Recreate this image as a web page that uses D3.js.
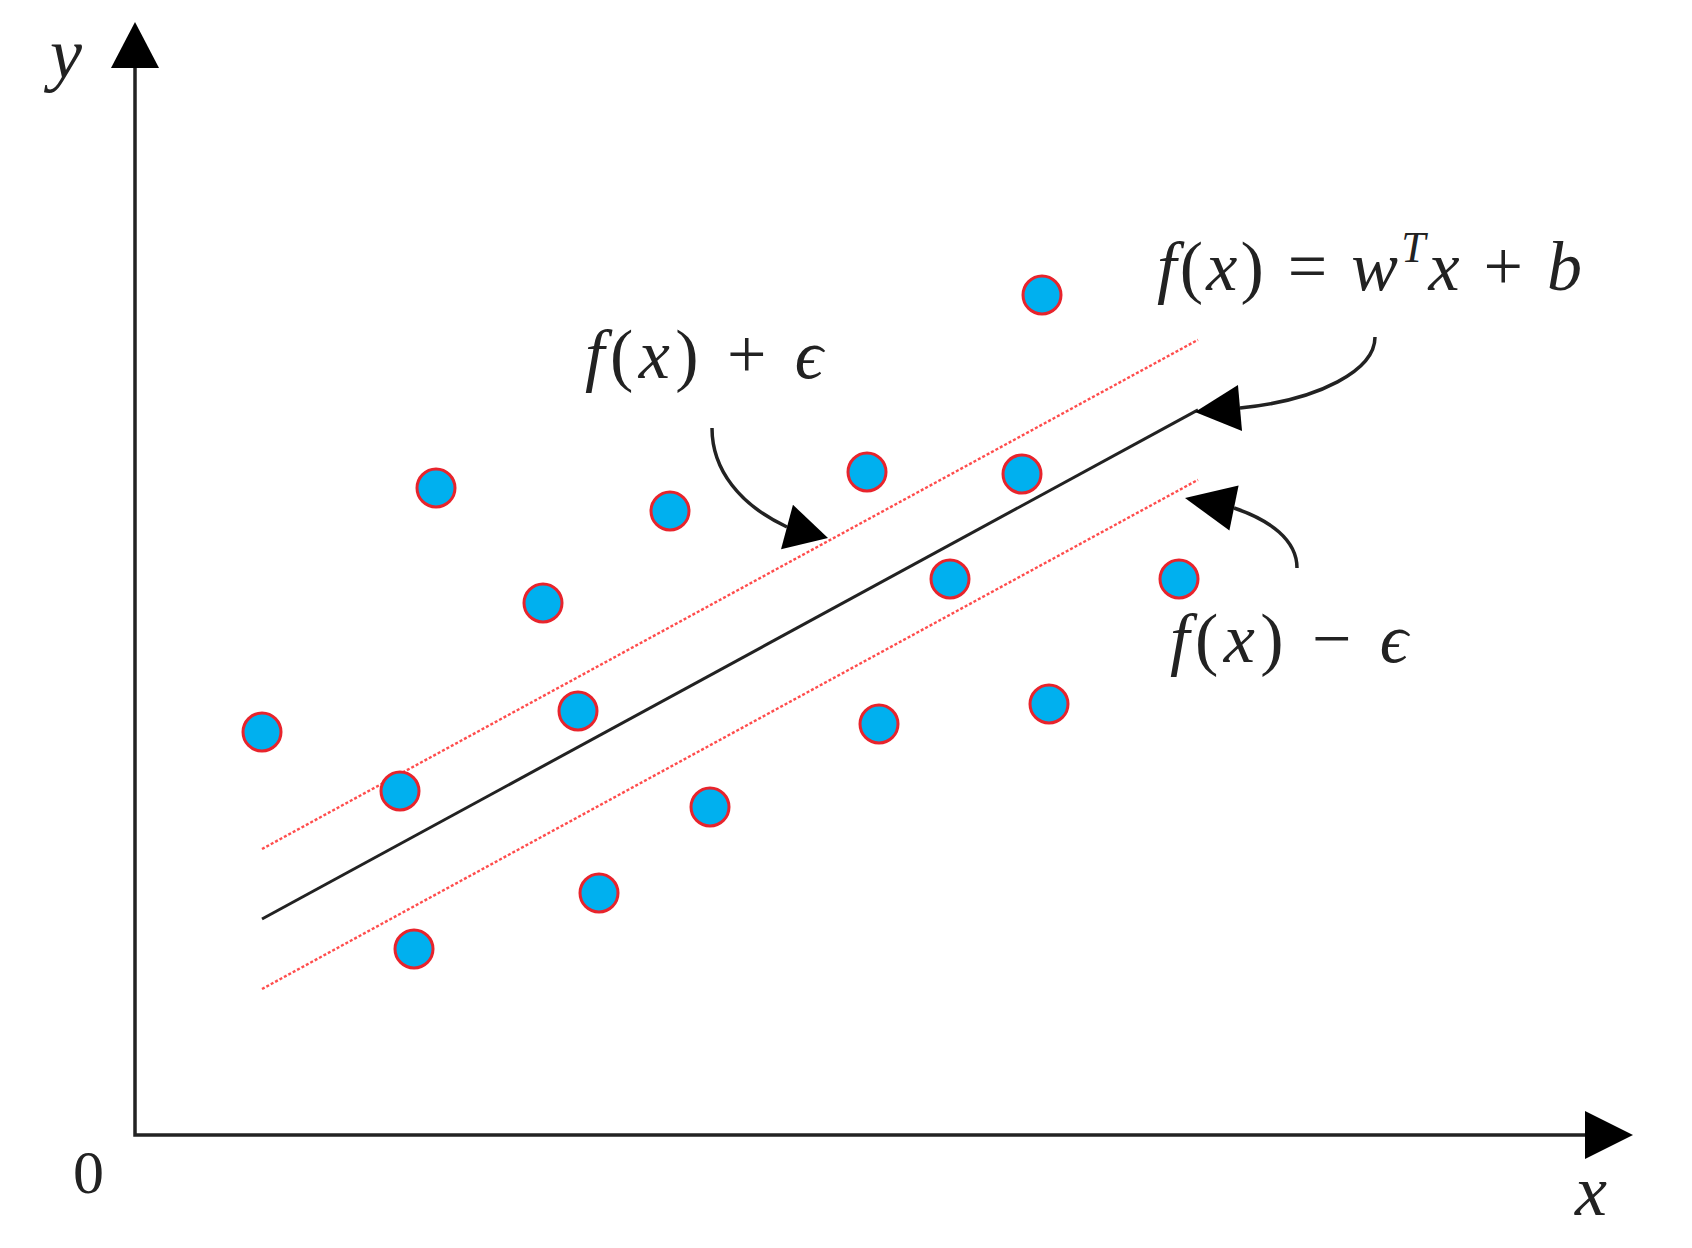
<!DOCTYPE html>
<html>
<head>
<meta charset="utf-8">
<script src="https://cdn.jsdelivr.net/npm/d3@7"></script>
<style>
  body { margin: 0; background: #fff; }
  svg { display: block; }
  .lbl { font-family: "Liberation Serif", "DejaVu Serif", serif; fill: #222; }
</style>
</head>
<body>
<svg id="chart"></svg>
<script>
// data points (x, y) in plot units
const pointX = [1.27, 3.01, 2.65, 2.79, 4.08, 4.43, 4.64, 5.35, 5.75, 7.32, 7.44, 8.15, 8.87, 9.07, 9.14, 10.44];
const pointY = [4.03, 6.47, 3.44, 1.86, 5.32, 4.24, 2.42, 6.24, 3.28, 6.63, 4.11, 5.56, 6.61, 8.40, 4.31, 5.56];

// regression line f(x) = w x + b, and the epsilon tube
const lineW = 0.544;
const lineB = 1.469;
const epsilon = 0.70;
const lineRange = [1.27, 10.63];

// annotation arrows: curve [start, c1, c2, end] and the arrow tip
const arrowCurves = [
  [[12.40, 7.98], [12.40, 7.65], [11.85, 7.35], [11.05, 7.27]],
  [[5.77, 7.07], [5.77, 6.65], [6.05, 6.30], [6.52, 6.08]],
  [[11.62, 5.67], [11.62, 5.95], [11.35, 6.15], [10.99, 6.27]]
];
const arrowTips = [[10.60, 7.23], [6.93, 5.97], [10.50, 6.37]];

const width = 1692, height = 1248;
const origin = { x: 135, y: 1135 };

const svg = d3.select('#chart')
  .attr('width', width)
  .attr('height', height);

const x = d3.scaleLinear().domain([0, 14.5]).range([origin.x, origin.x + 1450]);
const y = d3.scaleLinear().domain([0, 10.67]).range([origin.y, origin.y - 1067]);

// triangle arrowhead given tip and base centre (in px)
function head(tip, base, hw) {
  const dx = tip[0] - base[0], dy = tip[1] - base[1];
  const len = Math.hypot(dx, dy);
  const nx = -dy / len * hw, ny = dx / len * hw;
  return `M${tip[0]},${tip[1]}L${base[0] + nx},${base[1] + ny}L${base[0] - nx},${base[1] - ny}Z`;
}

// axes
svg.append('path')
  .attr('d', `M${x(0)},${y(10.67)}L${x(0)},${y(0)}L${x(14.5)},${y(0)}`)
  .attr('fill', 'none')
  .attr('stroke', '#222')
  .attr('stroke-width', 3.5);
svg.append('path')
  .attr('d', head([x(0), y(11.13)], [x(0), y(10.67)], 24))
  .attr('fill', '#000');
svg.append('path')
  .attr('d', head([x(14.98), y(0)], [x(14.5), y(0)], 24))
  .attr('fill', '#000');

// epsilon tube (dotted red) and regression line
const f = v => lineW * v + lineB;
[epsilon, -epsilon].forEach(e => {
  svg.append('line')
    .attr('x1', x(lineRange[0])).attr('y1', y(f(lineRange[0]) + e))
    .attr('x2', x(lineRange[1])).attr('y2', y(f(lineRange[1]) + e))
    .attr('stroke', '#ff4d4d')
    .attr('stroke-width', 2.4)
    .attr('stroke-dasharray', '3,2');
});
svg.append('line')
  .attr('x1', x(lineRange[0])).attr('y1', y(f(lineRange[0])))
  .attr('x2', x(lineRange[1])).attr('y2', y(f(lineRange[1])))
  .attr('stroke', '#222')
  .attr('stroke-width', 3);

// points
svg.selectAll('.point')
  .data(pointX.map((d, i) => [d, pointY[i]]))
  .enter()
  .append('circle')
  .attr('class', 'point')
  .attr('cx', d => x(d[0]))
  .attr('cy', d => y(d[1]))
  .attr('r', 19)
  .attr('fill', '#00b0ef')
  .attr('stroke', '#e8242c')
  .attr('stroke-width', 3);

// annotation arrows
arrowCurves.forEach((c, i) => {
  const p = c.map(d => [x(d[0]), y(d[1])]);
  svg.append('path')
    .attr('d', `M${p[0]}C${p[1]} ${p[2]} ${p[3]}`)
    .attr('fill', 'none')
    .attr('stroke', '#222')
    .attr('stroke-width', 3.5);
  const tip = [x(arrowTips[i][0]), y(arrowTips[i][1])];
  svg.append('path')
    .attr('d', head(tip, p[3], 23))
    .attr('fill', '#000');
});

// labels
function label(px, py, parts, size, len) {
  const t = svg.append('text')
    .attr('class', 'lbl')
    .attr('x', px).attr('y', py)
    .style('font-size', size + 'px');
  if (len) t.attr('textLength', len).attr('lengthAdjust', 'spacing');
  parts.forEach(p => {
    const s = t.append('tspan').text(p.t);
    if (p.i) s.style('font-style', 'italic');
    if (p.sup) s.attr('dy', -size * 0.4).style('font-size', (size * 0.62) + 'px');
    if (p.down) s.attr('dy', size * 0.4);
  });
}
label(x(10.22), y(8.45), [
  { t: 'f', i: 1 }, { t: '(' }, { t: 'x', i: 1 }, { t: ') = ' }, { t: 'w', i: 1 },
  { t: 'T', i: 1, sup: 1 }, { t: 'x', i: 1, down: 1 }, { t: ' + ' }, { t: 'b', i: 1 }
], 70, 425);
label(x(4.50), y(7.57), [
  { t: 'f', i: 1 }, { t: '(' }, { t: 'x', i: 1 }, { t: ') + ' }, { t: 'ϵ', i: 1 }
], 70, 238);
label(x(10.35), y(4.73), [
  { t: 'f', i: 1 }, { t: '(' }, { t: 'x', i: 1 }, { t: ') − ' }, { t: 'ϵ', i: 1 }
], 70, 238);
label(x(-0.85), y(10.57), [{ t: 'y', i: 1 }], 72);
label(x(-0.62), y(-0.58), [{ t: '0' }], 62);
label(x(14.40), y(-0.80), [{ t: 'x', i: 1 }], 72);
</script>
</body>
</html>
